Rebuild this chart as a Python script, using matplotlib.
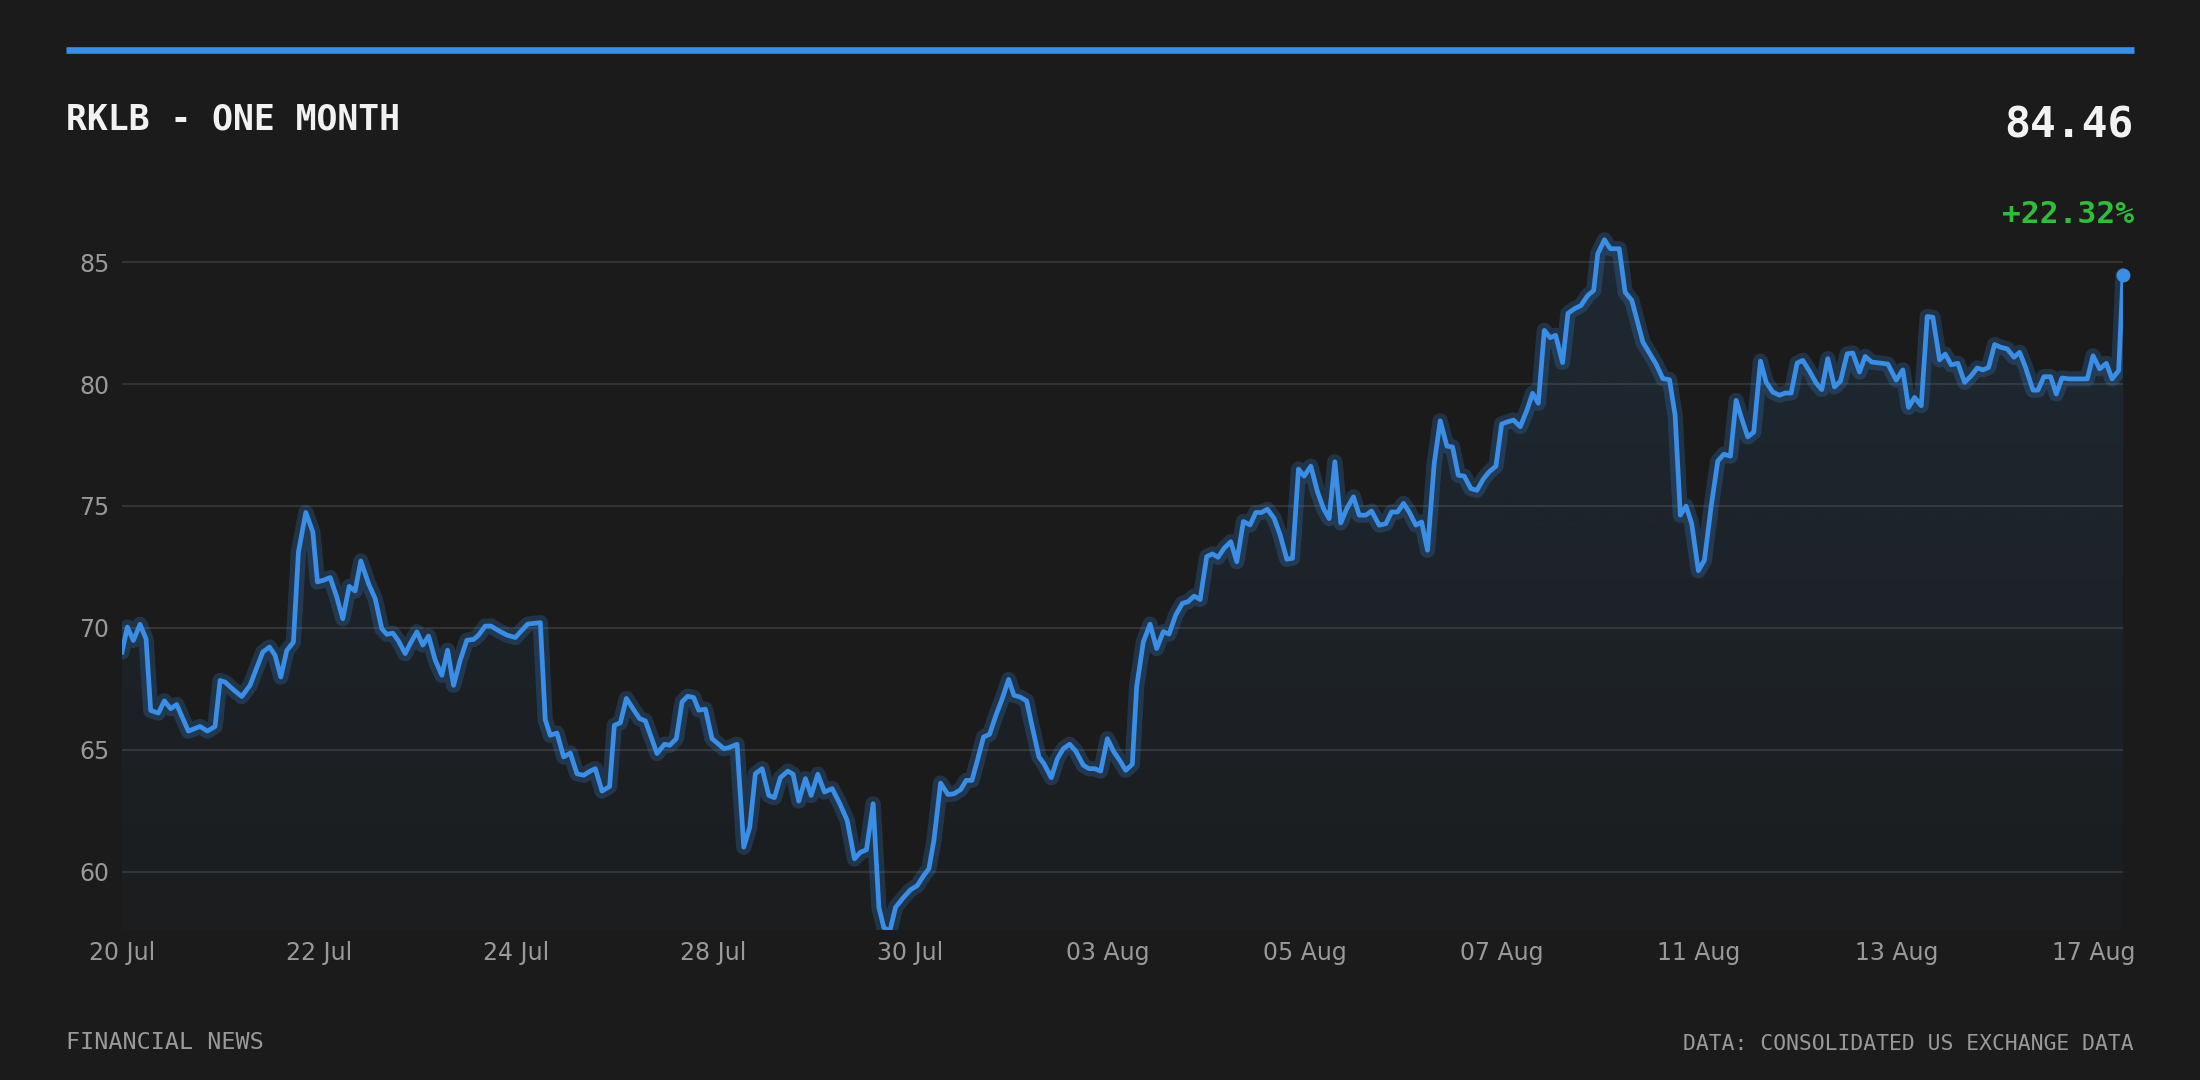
import numpy as np
import matplotlib
matplotlib.use("Agg")
import matplotlib.pyplot as plt
from matplotlib.lines import Line2D
from matplotlib.patches import PathPatch
from matplotlib.path import Path

# ---------------- data ----------------
title = "RKLB - ONE MONTH"
last_price_label = "84.46"
change_label = "+22.32%"
footer_left = "FINANCIAL NEWS"
footer_right = "DATA: CONSOLIDATED US EXCHANGE DATA"

tick_labels = ["20 Jul", "22 Jul", "24 Jul", "28 Jul", "30 Jul", "03 Aug",
               "05 Aug", "07 Aug", "11 Aug", "13 Aug", "17 Aug"]
y_ticks = [60, 65, 70, 75, 80, 85]

# time in trading days since 20 Jul
t_days = [
    0.000, 0.054, 0.115, 0.183, 0.244, 0.291, 0.369, 0.430, 0.494, 0.555,
    0.673, 0.792, 0.866, 0.944, 0.995, 1.046, 1.130, 1.215, 1.299, 1.428,
    1.496, 1.553, 1.611, 1.672, 1.739, 1.790, 1.865, 1.936, 1.983, 2.044,
    2.112, 2.179, 2.240, 2.305, 2.365, 2.423, 2.501, 2.569, 2.636, 2.687,
    2.748, 2.805, 2.873, 2.924, 2.992,
    3.052, 3.110, 3.178, 3.245, 3.303, 3.364, 3.431, 3.499, 3.567, 3.618,
    3.685, 3.743, 3.821, 3.905, 3.990, 4.058, 4.115, 4.176, 4.244, 4.294,
    4.345, 4.413, 4.481, 4.548, 4.616, 4.684, 4.751, 4.802, 4.870, 4.947,
    4.995, 5.056, 5.117, 5.184, 5.252, 5.310, 5.428, 5.503, 5.557, 5.624,
    5.682, 5.739, 5.800, 5.851, 5.919, 5.986,
    6.105, 6.156, 6.240, 6.308, 6.369, 6.426, 6.494, 6.562, 6.619, 6.680,
    6.755, 6.809, 6.866, 6.934, 6.992, 7.059, 7.127, 7.205, 7.283, 7.357,
    7.431, 7.492, 7.553, 7.621, 7.679, 7.729, 7.790, 7.848, 7.932, 8.000,
    8.068, 8.135, 8.186, 8.237, 8.305, 8.379, 8.440, 8.508, 8.565, 8.623,
    8.674, 8.741, 8.802, 8.870, 8.927, 8.995,
    9.049, 9.110, 9.178, 9.235, 9.303, 9.354, 9.428, 9.490, 9.550, 9.614,
    9.675, 9.753, 9.811, 9.868, 9.929, 9.997, 10.064, 10.122, 10.183, 10.250,
    10.294, 10.362, 10.430, 10.497, 10.565, 10.623, 10.690, 10.758, 10.816, 10.877,
    10.938, 11.005, 11.063, 11.120, 11.181, 11.249, 11.310, 11.377, 11.445, 11.503,
    11.560, 11.621, 11.689, 11.750, 11.818, 11.875, 11.936,
    11.993, 12.061, 12.129, 12.190, 12.247, 12.305, 12.365, 12.426, 12.494, 12.552,
    12.619, 12.677, 12.755, 12.822, 12.880, 12.941, 13.002, 13.059, 13.127, 13.185,
    13.245, 13.313, 13.374, 13.442, 13.499, 13.557, 13.618, 13.685, 13.746, 13.814,
    13.871, 13.939, 13.997, 14.057, 14.118, 14.186, 14.254, 14.311, 14.369, 14.430,
    14.490, 14.545, 14.615, 14.670, 14.740,
    14.802, 14.870, 14.931, 14.972, 15.040, 15.100, 15.190, 15.250, 15.318, 15.372,
    15.430, 15.497, 15.565, 15.633, 15.700, 15.757, 15.810, 15.868, 15.925, 15.993,
    16.054, 16.122, 16.190, 16.251, 16.318, 16.376, 16.433, 16.494, 16.555, 16.623,
    16.680, 16.748, 16.816, 16.873, 16.934, 16.995, 17.052, 17.120, 17.188, 17.245,
    17.306, 17.374, 17.435, 17.503, 17.560, 17.628, 17.685, 17.753,
    17.915, 18.000, 18.067, 18.125, 18.186, 18.254, 18.315, 18.372, 18.440, 18.497,
    18.558, 18.626, 18.694, 18.761, 18.822, 18.880, 18.937, 18.998, 19.059, 19.127,
    19.195, 19.252, 19.310, 19.388, 19.438, 19.499, 19.567, 19.624, 19.682, 19.750,
    19.817, 19.878, 19.939, 19.997, 20.064, 20.132, 20.190, 20.257, 20.301,
]

price = [
    69.00, 70.03, 69.48, 70.14, 69.55, 66.61, 66.50, 67.00, 66.68, 66.85,
    65.76, 65.95, 65.76, 65.95, 67.84, 67.77, 67.46, 67.18, 67.64, 69.00,
    69.21, 68.87, 67.98, 69.07, 69.41, 73.11, 74.73, 73.93, 71.88, 71.95,
    72.06, 71.26, 70.37, 71.70, 71.51, 72.74, 71.81, 71.19, 69.96, 69.73,
    69.78, 69.46, 68.94, 69.35, 69.83,
    69.29, 69.66, 68.67, 68.05, 69.08, 67.64, 68.67, 69.49, 69.52, 69.70,
    70.07, 70.07, 69.88, 69.70, 69.60, 69.90, 70.15, 70.18, 70.21, 66.23,
    65.59, 65.68, 64.70, 64.86, 64.01, 63.95, 64.12, 64.22, 63.30, 63.49,
    66.00, 66.10, 67.10, 66.68, 66.27, 66.18, 64.84, 65.22, 65.18, 65.45,
    66.96, 67.19, 67.14, 66.62, 66.66, 65.45,
    65.04, 65.08, 65.22, 61.00, 61.82, 64.01, 64.22, 63.12, 63.03, 63.85,
    64.12, 63.99, 62.89, 63.81, 63.12, 63.99, 63.26, 63.40, 62.78, 62.10,
    60.52, 60.79, 60.89, 62.78, 58.53, 57.70, 57.55, 58.53, 58.95, 59.25,
    59.42, 59.84, 60.11, 61.27, 63.63, 63.16, 63.19, 63.36, 63.74, 63.74,
    64.49, 65.52, 65.63, 66.45, 67.05, 67.88,
    67.23, 67.16, 67.00, 65.93, 64.70, 64.42, 63.85, 64.63, 65.04, 65.22,
    64.95, 64.36, 64.22, 64.22, 64.12, 65.45, 64.90, 64.56, 64.15, 64.40,
    67.58, 69.42, 70.15, 69.15, 69.84, 69.74, 70.52, 71.00, 71.07, 71.30,
    71.16, 72.92, 73.03, 72.89, 73.26, 73.53, 72.71, 74.36, 74.22, 74.73,
    74.73, 74.86, 74.49, 73.81, 72.81, 72.85, 76.51,
    76.22, 76.63, 75.58, 74.89, 74.48, 76.81, 74.30, 74.89, 75.37, 74.62,
    74.62, 74.79, 74.21, 74.27, 74.75, 74.75, 75.10, 74.75, 74.21, 74.34,
    73.18, 76.74, 78.49, 77.45, 77.42, 76.26, 76.22, 75.71, 75.64, 76.12,
    76.40, 76.63, 78.36, 78.45, 78.52, 78.25, 78.93, 79.62, 79.21, 82.20,
    81.90, 82.00, 80.88, 82.90, 83.10,
    83.22, 83.63, 83.84, 85.34, 85.92, 85.55, 85.55, 83.77, 83.43, 82.61,
    81.72, 81.27, 80.81, 80.22, 80.18, 78.72, 74.62, 74.99, 74.28, 72.34,
    72.77, 74.96, 76.84, 77.12, 77.04, 79.33, 78.58, 77.83, 78.03, 80.94,
    80.08, 79.67, 79.54, 79.63, 79.63, 80.86, 80.97, 80.53, 80.04, 79.77,
    81.04, 79.88, 80.12, 81.24, 81.27, 80.49, 81.13, 80.90,
    80.82, 80.16, 80.58, 79.04, 79.45, 79.11, 82.77, 82.74, 80.99, 81.23,
    80.79, 80.85, 80.07, 80.34, 80.66, 80.58, 80.68, 81.62, 81.51, 81.44,
    81.10, 81.30, 80.71, 79.75, 79.75, 80.30, 80.30, 79.59, 80.25, 80.21,
    80.21, 80.21, 80.21, 81.16, 80.62, 80.85, 80.21, 80.55, 84.46,
]

# ---------------- style ----------------
BG = "#1b1b1b"
BLUE = "#3a8ee6"
GRID = "#333333"
TICK = "#999999"
WHITE = "#f2f2f2"
GREEN = "#2fbd3a"
MONO = ["DejaVu Sans Mono"]

W, H = 2200, 1080
fig = plt.figure(figsize=(W / 100, H / 100), dpi=100, facecolor=BG)

left, right = 122 / W, 2123 / W
bottom, top = 1 - 930 / H, 1 - 200 / H
ax = fig.add_axes([left, bottom, right - left, top - bottom])
ax.set_facecolor(BG)

x = np.array(t_days)
y = np.array(price)
ymin, ymax = 57.6, 87.55

# gridlines
for yt in y_ticks:
    ax.axhline(yt, color=GRID, lw=1.5, zorder=1)

# gradient fill under the line
grad = np.linspace(0.02, 0.12, 256).reshape(-1, 1)
rgba = np.zeros((256, 1, 4))
rgba[..., 0] = 0x3a / 255
rgba[..., 1] = 0x8e / 255
rgba[..., 2] = 0xe6 / 255
rgba[..., 3] = grad
im = ax.imshow(rgba, extent=[x[0], x[-1], ymin, y.max()], origin="lower",
               aspect="auto", zorder=2, interpolation="bilinear")
poly = np.vstack([np.column_stack([x, y]),
                  [[x[-1], ymin - 5], [x[0], ymin - 5], [x[0], y[0]]]])
clip = PathPatch(Path(poly), transform=ax.transData,
                 facecolor="none", edgecolor="none")
ax.add_patch(clip)
im.set_clip_path(clip)

# glow + line
ax.plot(x, y, color=BLUE, lw=11, alpha=0.22, solid_joinstyle="round",
        solid_capstyle="round", zorder=3)
ax.plot(x, y, color=BLUE, lw=3.4, solid_joinstyle="round", zorder=4)
ax.plot([x[-1]], [y[-1]], "o", color=BLUE, ms=9, zorder=5, clip_on=False)

ax.set_xlim(x[0], x[-1])
ax.set_ylim(ymin, ymax)

# ticks
ax.set_yticks(y_ticks)
ax.set_yticklabels([str(v) for v in y_ticks])
ax.set_xticks(np.arange(0, 2 * len(tick_labels), 2))
ax.set_xticklabels(tick_labels)
ax.tick_params(axis="both", length=0, colors=TICK, labelsize=17)
ax.tick_params(axis="y", pad=9)
ax.tick_params(axis="x", pad=8)
for s in ax.spines.values():
    s.set_visible(False)

# header
fig.add_artist(Line2D([66 / W, 2134 / W], [1 - 49.5 / H, 1 - 49.5 / H],
                      color=BLUE, lw=4.8, solid_capstyle="butt",
                      transform=fig.transFigure))
fig.text(66 / W, 1 - 129 / H, title, color=WHITE, fontsize=25,
         fontweight="bold", family=MONO, ha="left", va="baseline")
fig.text(2134 / W, 1 - 137 / H, last_price_label, color=WHITE, fontsize=31,
         fontweight="bold", family=MONO, ha="right", va="baseline")
fig.text(2134 / W, 1 - 223 / H, change_label, color=GREEN, fontsize=22.5,
         fontweight="bold", family=MONO, ha="right", va="baseline")

# footer
fig.text(66 / W, 1 - 1049 / H, footer_left, color=TICK, fontsize=16.8,
         family=MONO, ha="left", va="baseline")
fig.text(2134 / W, 1 - 1050 / H, footer_right, color=TICK, fontsize=15.4,
         family=MONO, ha="right", va="baseline")

fig.savefig("out.png", dpi=100, facecolor=BG)
